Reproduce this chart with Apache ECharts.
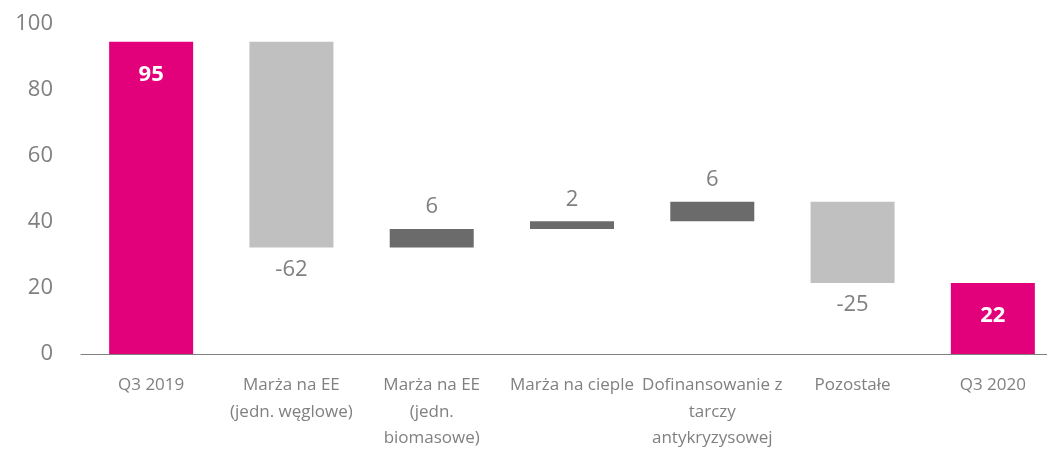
<!DOCTYPE html>
<html>
<head>
<meta charset="utf-8">
<script src="https://cdn.jsdelivr.net/npm/echarts@6/dist/echarts.min.js"></script>
<style>html,body{margin:0;padding:0;background:#fff;overflow:hidden;width:1047px;height:449px}#c{width:1063px;height:449px}</style>
</head>
<body>
<div id="c"></div>
<script>
const categories = ['Q3 2019', 'Marża na EE\n(jedn. węglowe)', 'Marża na EE\n(jedn.\nbiomasowe)', 'Marża na cieple', 'Dofinansowanie z\ntarczy\nantykryzysowej', 'Pozostałe', 'Q3 2020'];
const values = [94.6, -62.3, 5.6, 2.3, 5.9, -24.6, 21.5];
const kinds = ['total', 'delta', 'delta', 'delta', 'delta', 'delta', 'total'];
const yTicks = [0, 20, 40, 60, 80, 100];

const PINK = '#E3007B', NEG = '#C0C0C0', POS = '#6B6B6B', TXT = '#808080';
const FONT = 'Open Sans';

let running = 0;
const bases = [], bars = [];
values.forEach((v, i) => {
  let base, h;
  if (kinds[i] === 'total') { base = 0; h = v; running = v; }
  else if (v >= 0) { base = running; h = v; running += v; }
  else { base = running + v; h = -v; running += v; }
  bases.push(base);
  const total = kinds[i] === 'total';
  const color = total ? PINK : (v >= 0 ? POS : NEG);
  bars.push({
    value: h,
    itemStyle: { color },
    label: {
      show: true,
      formatter: String(Math.round(v)),
      position: total ? 'insideTop' : (v >= 0 ? 'top' : 'bottom'),
      distance: total ? 22 : 11,
      color: total ? '#fff' : TXT,
      fontWeight: total ? 'bold' : 'normal',
      fontSize: 22,
      fontFamily: FONT
    }
  });
});

const chart = echarts.init(document.getElementById('c'));
chart.setOption({
  animation: false,
  grid: { left: 81, right: 0, top: 24, bottom: 95, containLabel: false, outerBoundsMode: 'none' },
  xAxis: {
    type: 'category',
    data: categories,
    axisLine: { lineStyle: { color: '#808080', width: 1 } },
    axisTick: { show: false },
    axisLabel: { interval: 0, color: TXT, fontSize: 17, lineHeight: 26.5, margin: 18, fontFamily: FONT }
  },
  yAxis: {
    type: 'value',
    min: yTicks[0], max: yTicks[yTicks.length - 1], interval: yTicks[1] - yTicks[0],
    splitLine: { show: false },
    axisLine: { show: false },
    axisTick: { show: false },
    axisLabel: { color: TXT, fontSize: 22, margin: 28, fontFamily: FONT }
  },
  series: [
    { type: 'bar', stack: 'w', data: bases, itemStyle: { color: 'transparent' }, barWidth: 84, silent: true },
    { type: 'bar', stack: 'w', data: bars, barWidth: 84 }
  ]
});
</script>
</body>
</html>
